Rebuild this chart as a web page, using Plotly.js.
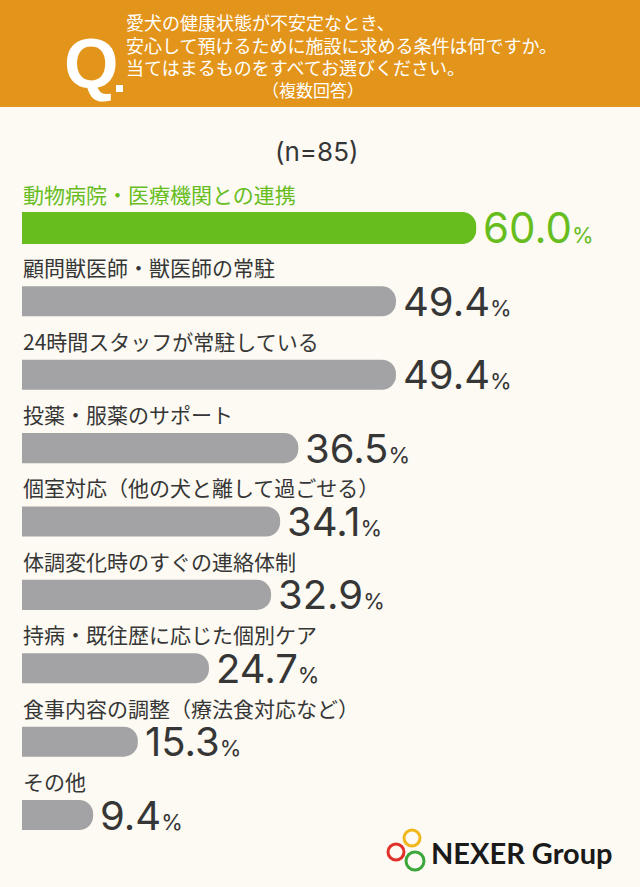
<!DOCTYPE html>
<html><head><meta charset="utf-8">
<script src="https://cdn.plot.ly/plotly-3.0.1.min.js"></script>
<style>html,body{margin:0;padding:0;background:#fcfaf3;} #chart{width:640px;height:887px;}</style>
</head><body><div id="chart"></div>
<script>
const categories = [
  "動物病院・医療機関との連携",
  "顧問獣医師・獣医師の常駐",
  "24時間スタッフが常駐している",
  "投薬・服薬のサポート",
  "個室対応（他の犬と離して過ごせる）",
  "体調変化時のすぐの連絡体制",
  "持病・既往歴に応じた個別ケア",
  "食事内容の調整（療法食対応など）",
  "その他"
];
const values = [60.0, 49.4, 49.4, 36.5, 34.1, 32.9, 24.7, 15.3, 9.4];
const valueLabels = ["60.0", "49.4", "49.4", "36.5", "34.1", "32.9", "24.7", "15.3", "9.4"];
const titleLines = [
  "愛犬の健康状態が不安定なとき、",
  "安心して預けるために施設に求める条件は何ですか。",
  "当てはまるものをすべてお選びください。"
];
const titleNote = "（複数回答）";
const sampleLabel = "(n=85)";
const brand = "NEXER Group";

const W = 640, H = 887;
const GREEN = "#68bd1e", GRAY = "#a3a3a5", TXT = "#363636", ORANGE = "#e3951b", BG = "#fcfaf3";
const pxX = 7.57, x0px = 22;
const yTop = 191.3, yBot = 851.7;
const fy = py => (H - py) / H;
const fx = px => px / W;

const colors = values.map((v, i) => i === 0 ? GREEN : GRAY);
const widths = values.map((v, i) => i === 0 ? 0.436 : 0.409);

const ann = [];
categories.forEach((c, i) => {
  ann.push({x: 0, y: c, xref: 'x', yref: 'y', text: c, showarrow: false, xanchor: 'left', yanchor: 'middle',
    yshift: 34, xshift: -1, font: {family: 'Noto Sans CJK JP', size: 21, color: i === 0 ? GREEN : TXT}});
  const big = i === 0 ? 42 : 40, small = 22;
  ann.push({x: values[i], y: c, xref: 'x', yref: 'y', showarrow: false, xanchor: 'left', yanchor: 'middle',
    xshift: 5, yshift: 0,
    text: valueLabels[i] + '<span style="font-size:' + small + 'px">%</span>',
    font: {family: 'Inter', size: big, weight: 400, color: i === 0 ? GREEN : TXT}});
});
titleLines.forEach((t, i) => {
  ann.push({x: fx(124), y: fy(22.5 + i * 22.3), xref: 'paper', yref: 'paper', text: t, showarrow: false,
    xanchor: 'left', yanchor: 'middle', font: {family: 'Noto Sans CJK JP', size: 18, color: '#ffffff'}});
});
ann.push({x: fx(313), y: fy(89), xref: 'paper', yref: 'paper', text: titleNote, showarrow: false,
  xanchor: 'center', yanchor: 'middle', font: {family: 'Noto Sans CJK JP', size: 17, color: '#ffffff'}});
ann.push({x: fx(62), y: fy(64), xref: 'paper', yref: 'paper', text: 'Q', showarrow: false,
  xanchor: 'left', yanchor: 'middle', font: {family: 'Liberation Sans', size: 70, color: '#ffffff', weight: 'bold'}});
ann.push({x: fx(316), y: fy(151), xref: 'paper', yref: 'paper', text: sampleLabel, showarrow: false,
  xanchor: 'center', yanchor: 'middle', font: {family: 'Inter', size: 26, weight: 400, color: TXT}});
ann.push({x: fx(429), y: fy(852), xref: 'paper', yref: 'paper', text: '<b>' + brand + '</b>', showarrow: false,
  xanchor: 'left', yanchor: 'middle', font: {family: 'Lato', size: 29, color: '#1a1a1a'}});

const circ = (cx, cy, r, col) => ({type: 'circle', xref: 'paper', yref: 'paper',
  x0: fx(cx - r), x1: fx(cx + r), y0: fy(cy + r), y1: fy(cy - r), line: {color: col, width: 3}});

const shapes = [
  {type: 'rect', xref: 'paper', yref: 'paper', x0: 0, x1: 1, y0: fy(107), y1: 1, fillcolor: ORANGE, line: {width: 0}, layer: 'below'},
  {type: 'rect', xref: 'paper', yref: 'paper', x0: fx(116), x1: fx(123), y0: fy(92), y1: fy(85), fillcolor: '#ffffff', line: {width: 0}},
  circ(412, 838, 8, '#f0b81c'),
  circ(396, 852, 8, '#e0302a'),
  circ(415, 861, 9, '#3aa73a')
];

const data = [{
  type: 'bar', orientation: 'h', y: categories, x: values,
  marker: {color: colors, cornerradius: 14, line: {width: 0}},
  width: widths, hoverinfo: 'skip'
}];

const layout = {
  width: W, height: H, margin: {l: 0, r: 0, t: 0, b: 0},
  paper_bgcolor: BG, plot_bgcolor: 'rgba(0,0,0,0)', showlegend: false,
  xaxis: {range: [-x0px / pxX, (W - x0px) / pxX], visible: false, fixedrange: true},
  yaxis: {type: 'category', range: [8.5, -0.5], visible: false, fixedrange: true,
    domain: [fy(yBot), fy(yTop)]},
  annotations: ann, shapes: shapes
};
Plotly.newPlot('chart', data, layout, {staticPlot: true, displayModeBar: false});
</script></body></html>
